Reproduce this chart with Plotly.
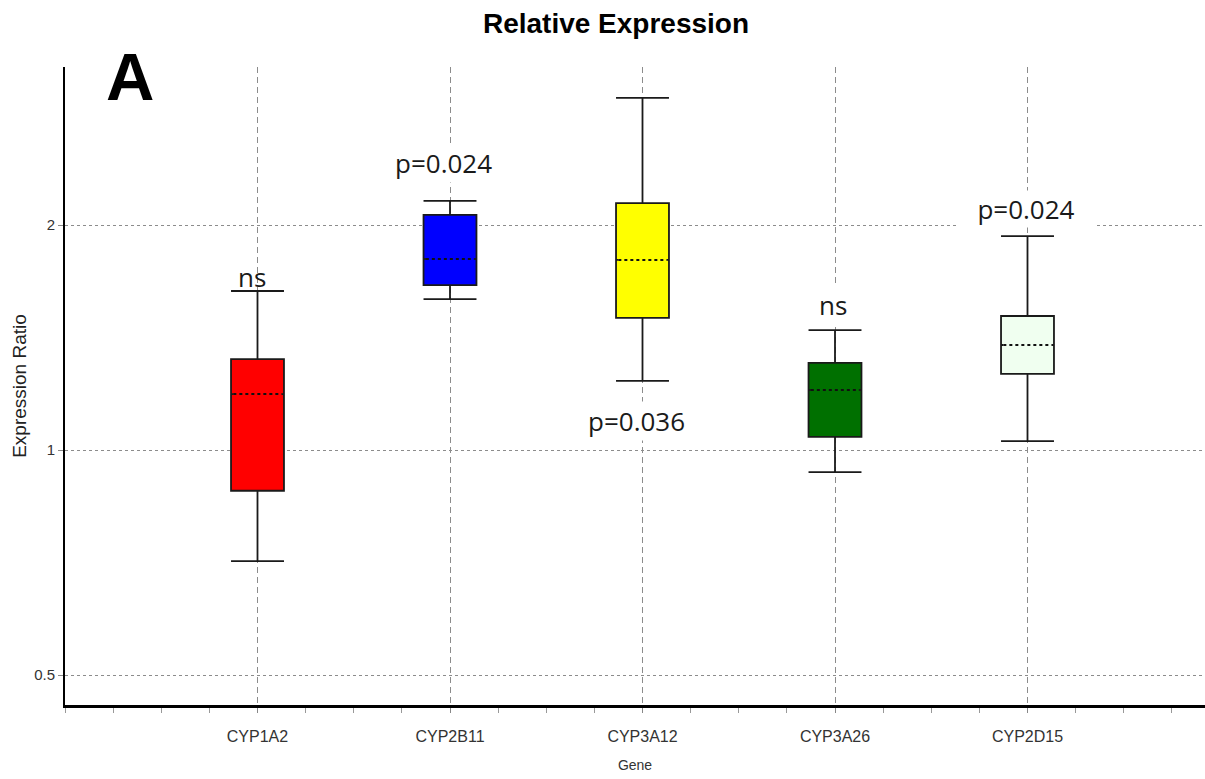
import numpy as np
import plotly.graph_objects as go

# Gene expression summary (expression ratio, log2-spaced axis)
genes = ["CYP1A2", "CYP2B11", "CYP3A12", "CYP3A26", "CYP2D15"]
lower_whisker = [0.710, 1.592, 1.237, 0.934, 1.028]
q1_values = [0.882, 1.662, 1.502, 1.041, 1.264]
medians = [1.188, 1.801, 1.796, 1.203, 1.382]
q3_values = [1.323, 2.063, 2.140, 1.308, 1.511]
upper_whisker = [1.632, 2.154, 2.958, 1.447, 1.933]
box_colors = ["#ff0000", "#0000ff", "#ffff00", "#007000", "#f0fff0"]

# significance labels and where they sit (expression ratio units)
sig_labels = ["ns", "p=0.024", "p=0.036", "ns", "p=0.024"]
sig_label_y = [1.705, 2.42, 1.093, 1.565, 2.10]
sig_label_xshift = [-6, -7, -6, -2, -2]

y_ticks = [0.5, 1, 2]
y_tick_text = ["0.5", "1", "2"]

BOX_W = 0.275
SANS = "Liberation Sans, Arial, sans-serif"

fig = go.Figure()

for i, g in enumerate(genes):
    xpos = i + 1
    fig.add_trace(go.Box(
        x=[xpos], name=g,
        q1=[q1_values[i]], median=[medians[i]], q3=[q3_values[i]],
        lowerfence=[lower_whisker[i]], upperfence=[upper_whisker[i]],
        width=BOX_W, whiskerwidth=1.0,
        fillcolor=box_colors[i],
        line=dict(color="#1a1a1a", width=1.8),
        boxpoints=False, showlegend=False, hoverinfo="skip",
    ))

# dotted median lines
for i in range(len(genes)):
    xpos = i + 1
    xs = [xpos - BOX_W / 2 + 0.012, xpos + BOX_W / 2 - 0.012]
    ys = [medians[i], medians[i]]
    fig.add_trace(go.Scatter(x=xs, y=ys, mode="lines",
                             line=dict(color=box_colors[i], width=3.5),
                             showlegend=False, hoverinfo="skip"))
    fig.add_trace(go.Scatter(x=xs, y=ys, mode="lines",
                             line=dict(color="#111111", width=2, dash="dot"),
                             showlegend=False, hoverinfo="skip"))

annotations = []
for i, lab in enumerate(sig_labels):
    ann = dict(x=i + 1, y=float(np.log10(sig_label_y[i])), xref="x", yref="y",
               text=lab, showarrow=False, xanchor="center", yanchor="middle",
               xshift=sig_label_xshift[i],
               font=dict(family="Open Sans, sans-serif", size=26, color="#1a1a1a"))
    if i != 0:
        ann["bgcolor"] = "white"
    if i == 4:
        ann["width"] = 134
        ann["height"] = 34
    annotations.append(ann)

annotations.append(dict(x=(130 - 65) / 1140, y=(705 - 77) / 638, xref="paper", yref="paper",
                        text="<b>A</b>", showarrow=False, xanchor="center", yanchor="middle",
                        font=dict(family=SANS, size=67, color="black")))

fig.update_layout(
    width=1205, height=779,
    margin=dict(l=65, r=0, t=67, b=74),
    paper_bgcolor="white", plot_bgcolor="white",
    title=dict(text="<b>Relative Expression</b>", x=616 / 1205, xref="container",
               xanchor="center", y=1 - 23 / 779, yref="container", yanchor="middle",
               font=dict(family=SANS, size=28, color="black")),
    annotations=annotations,
    showlegend=False,
)

fig.update_xaxes(
    range=[0, 1140 / 192.5],
    tickmode="array", tickvals=list(range(1, len(genes) + 1)), ticktext=genes,
    ticks="outside", ticklen=5, tickcolor="#888", tickwidth=1,
    ticklabelstandoff=10,
    minor=dict(dtick=0.25, tick0=0, ticks="outside", ticklen=5, tickcolor="#999", showgrid=False),
    showgrid=True, gridcolor="#8c8c8c", gridwidth=1, griddash="6px,4px",
    showline=True, linecolor="black", linewidth=3,
    zeroline=False,
    tickfont=dict(family=SANS, size=16, color="#333"),
    title=dict(text="Gene", standoff=16, font=dict(family=SANS, size=14, color="#333")),
)

fig.update_yaxes(
    type="log",
    range=[np.log10(2 ** (-1.1333)), np.log10(2 ** 1.7022)],
    tickmode="array", tickvals=y_ticks, ticktext=y_tick_text,
    ticks="outside", ticklen=5, tickcolor="#888",
    showgrid=True, gridcolor="#8c8c8c", gridwidth=1, griddash="dot",
    showline=True, linecolor="black", linewidth=2,
    zeroline=False,
    tickfont=dict(family=SANS, size=15, color="#333"),
    title=dict(text="Expression Ratio", standoff=2, font=dict(family=SANS, size=19, color="#222")),
)

fig.write_html("out.html")
